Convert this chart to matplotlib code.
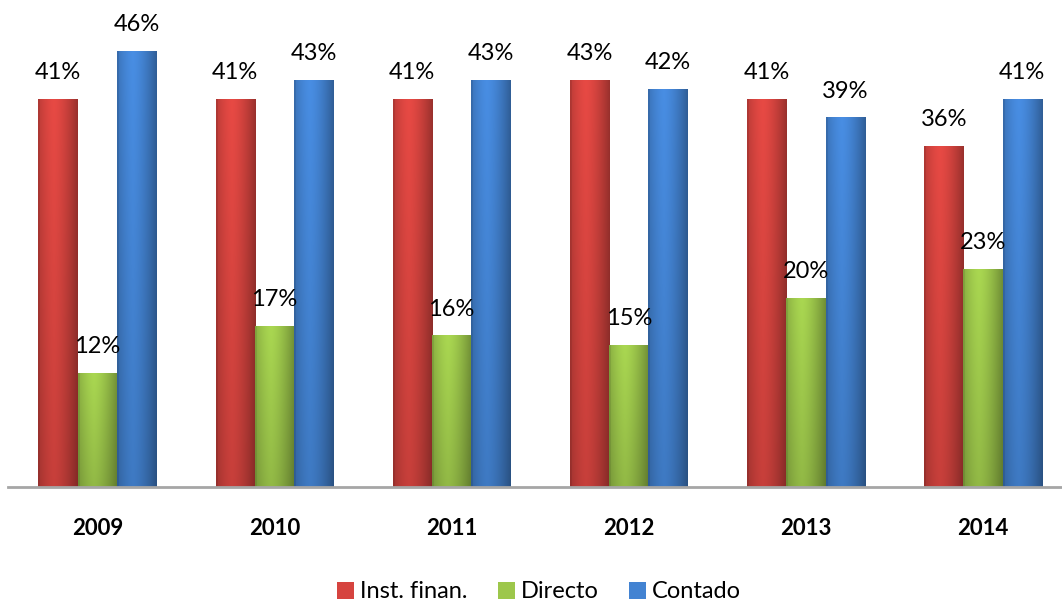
import numpy as np
import matplotlib
matplotlib.use("Agg")
import matplotlib.pyplot as plt
from matplotlib.patches import Patch
from matplotlib.colors import to_rgb

years = ["2009", "2010", "2011", "2012", "2013", "2014"]
series_names = ["Inst. finan.", "Directo", "Contado"]
inst_finan = [41, 41, 41, 43, 41, 36]
directo = [12, 17, 16, 15, 20, 23]
contado = [46, 43, 43, 42, 39, 41]

colors = ["#D6443F", "#9DC74B", "#4383D2"]

plt.rcParams['font.family'] = ['Lato', 'DejaVu Sans']

W, H = 1062, 613
fig = plt.figure(figsize=(W / 100, H / 100), dpi=100)
ax = fig.add_axes([8 / W, 126 / H, 1054 / W, 487 / H])

x = np.arange(len(years))
bw = 0.222
offsets = [-bw, 0, bw]
all_series = [inst_finan, directo, contado]


def gradient_fill(patch, base, ax):
    bx, by = patch.get_x(), patch.get_y()
    w, h = patch.get_width(), patch.get_height()
    nx, ny = 40, 60
    t = np.linspace(0, 1, nx)
    horiz = 1.08 - 0.35 * np.abs(t - 0.4) ** 1.5 * 2.2
    horiz[:2] *= 0.92
    vert = np.linspace(1.0, 0.86, ny)[:, None]
    fac = vert * horiz[None, :]
    rgb = np.clip(np.array(to_rgb(base))[None, None, :] * fac[:, :, None], 0, 1)
    im = ax.imshow(rgb, extent=(bx, bx + w, by, by + h), origin='upper',
                   aspect='auto', zorder=2, interpolation='bilinear')
    im.set_clip_path(patch)


for vals, off, col in zip(all_series, offsets, colors):
    bars = ax.bar(x + off, vals, width=bw, color=col, edgecolor='none', zorder=1)
    for p, v in zip(bars.patches, vals):
        gradient_fill(p, col, ax)
        ax.annotate("{}%".format(v), (p.get_x() + p.get_width() / 2, v),
                    xytext=(0, 19), textcoords='offset points',
                    ha='center', va='center', fontsize=17, color='black')

ax.set_xlim(-0.505, 5.446)
ax.set_ylim(0, 51.4)
ax.set_yticks([])
for s in ['top', 'right', 'left']:
    ax.spines[s].set_visible(False)
ax.spines['bottom'].set_color('#A6A6A6')
ax.spines['bottom'].set_linewidth(2)
ax.set_xticks(x)
ax.set_xticklabels(years, fontsize=16, fontweight='bold')
ax.tick_params(axis='x', length=0, pad=22.5)

handles = [Patch(facecolor=c, edgecolor='none') for c in colors]
fig.legend(handles, series_names, loc='center', bbox_to_anchor=(0.5075, 21 / H),
           ncol=3, frameon=False, fontsize=17, handlelength=0.7, handleheight=0.7,
           handletextpad=0.25, columnspacing=1.3)

fig.savefig("out.png", dpi=100)
